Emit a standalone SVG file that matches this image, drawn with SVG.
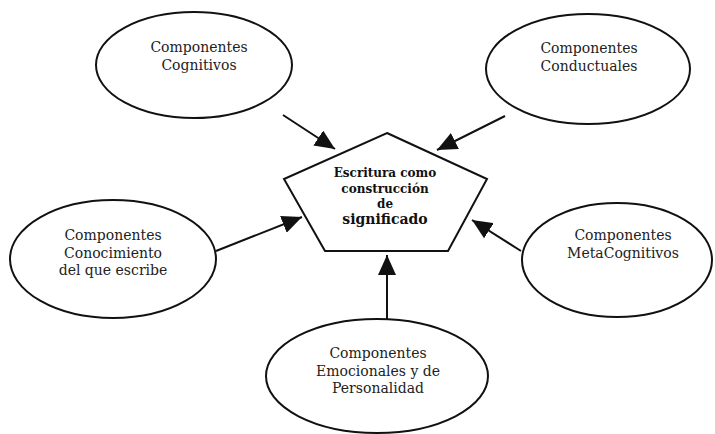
<svg xmlns="http://www.w3.org/2000/svg" width="715" height="434" viewBox="0 0 715 434">
<style>
.node ellipse, .node polygon { fill: #fff; stroke: #111; stroke-width: 2; }
.lbl { font-family: "DejaVu Serif", "Liberation Serif", serif; font-size: 14px; fill: #222; text-anchor: middle; }
.ctr { font-family: "DejaVu Serif", "Liberation Serif", serif; font-weight: bold; font-size: 12px; fill: #111; text-anchor: middle; }
.edge { stroke: #111; stroke-width: 2; fill: none; marker-end: url(#ah); }
</style>
<defs>
<marker id="ah" markerUnits="userSpaceOnUse" markerWidth="22" markerHeight="18" refX="20" refY="9" orient="auto">
<path d="M0,0 L20,9 L0,18 Z" fill="#111"/>
</marker>
</defs>
<g id="connectors">
<line class="edge" x1="283" y1="115" x2="335" y2="149"/>
<line class="edge" x1="505" y1="116" x2="437" y2="150"/>
<line class="edge" x1="216" y1="251" x2="302" y2="217"/>
<line class="edge" x1="521" y1="251" x2="472" y2="220"/>
<line class="edge" x1="387" y1="319" x2="387" y2="255"/>
</g>
<g id="n-center" class="node">
<polygon points="387,133 487,179 448,251 325,251 284,179"/>
<text class="ctr" x="385" y="177">Escritura como</text>
<text class="ctr" x="385" y="193">construcción</text>
<text class="ctr" x="385" y="208">de</text>
<text class="ctr" x="385" y="224" style="font-size:14px">significado</text>
</g>
<g id="n-cognitivos" class="node">
<ellipse cx="194" cy="65" rx="98" ry="53"/>
<text class="lbl" x="199" y="52">Componentes</text>
<text class="lbl" x="199" y="70">Cognitivos</text>
</g>
<g id="n-conductuales" class="node">
<ellipse cx="588" cy="69" rx="102" ry="55"/>
<text class="lbl" x="589" y="53">Componentes</text>
<text class="lbl" x="589" y="71">Conductuales</text>
</g>
<g id="n-conocimiento" class="node">
<ellipse cx="113" cy="259" rx="103" ry="59"/>
<text class="lbl" x="113" y="240">Componentes</text>
<text class="lbl" x="113" y="257.5">Conocimiento</text>
<text class="lbl" x="113" y="275">del que escribe</text>
</g>
<g id="n-metacognitivos" class="node">
<ellipse cx="617" cy="260" rx="95" ry="57"/>
<text class="lbl" x="623" y="240">Componentes</text>
<text class="lbl" x="623" y="258">MetaCognitivos</text>
</g>
<g id="n-emocionales" class="node">
<ellipse cx="377" cy="376" rx="111" ry="57"/>
<text class="lbl" x="378" y="358">Componentes</text>
<text class="lbl" x="378" y="376">Emocionales y de</text>
<text class="lbl" x="378" y="393">Personalidad</text>
</g>
</svg>
